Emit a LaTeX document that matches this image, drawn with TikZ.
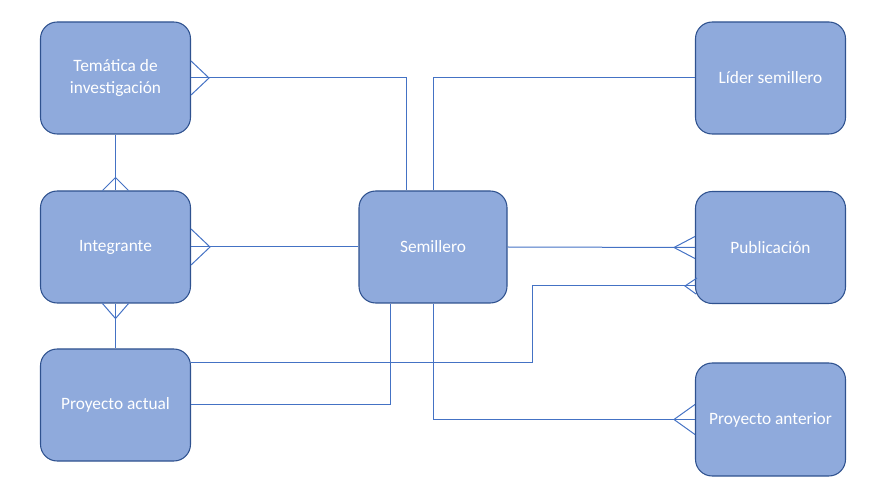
\documentclass[tikz,border=0pt]{standalone}
\usepackage{fontspec}
\setmainfont{Carlito}
\usetikzlibrary{calc}
\definecolor{boxfill}{HTML}{8FAADC}
\definecolor{boxdraw}{HTML}{2F528F}
\definecolor{linkc}{HTML}{4472C4}
\begin{document}
\begin{tikzpicture}[x=0.75pt,y=-0.75pt,
  entity/.style={draw=boxdraw,line width=0.8pt,fill=boxfill,rounded corners=12.5pt,
    minimum width=112.5pt,minimum height=84pt,text=white,align=center,
    font=\fontsize{13}{15.8}\selectfont,inner sep=0pt},
  link/.style={draw=linkc,line width=0.75pt}]
\useasboundingbox (0,0) rectangle (871,491);
\node[entity] (tem) at (115.5,78) {Temática de\\investigación};
\node[entity] (int) at (115.5,247) {Integrante};
\node[entity] (pa) at (115.5,405) {Proyecto actual};
\node[entity,minimum width=111pt] (sem) at (433,247) {Semillero};
\node[entity] (lid) at (770.5,78) {Líder semillero};
\node[entity] (pub) at (770.5,247.5) {Publicación};
\node[entity,minimum height=84.75pt] (pant) at (770.5,419.5) {Proyecto anterior};
\coordinate (bend) at (532,286);
% connectors
\draw[link] (tem.east) -| ($(sem.north)+(-27,0)$);
\draw[link] (lid.west) -| (sem.north);
\draw[link] (tem.south) -- (int.north);
\draw[link] (int.south) -- (pa.north);
\draw[link] (int.east) -- (sem.west);
\draw[link] (sem.east) -- (pub.west);
\draw[link] ($(pa.east)+(0,-42)$) -| (bend) -- ($(pub.west)+(0,38.5)$);
\draw[link] (pa.east) -| ($(sem.south)+(-43,0)$);
\draw[link] (sem.south) |- (pant.west);
% crow's feet
\draw[link] ($(tem.east)+(0,-17)$) -- ($(tem.east)+(18,0)$) -- ($(tem.east)+(0,17)$);
\draw[link] ($(int.north)+(-13,0)$) -- ($(int.north)+(0,-13)$) -- ($(int.north)+(13,0)$);
\draw[link] ($(int.south)+(-13,0)$) -- ($(int.south)+(0,15)$) -- ($(int.south)+(13,0)$);
\draw[link] ($(int.east)+(0,-18)$) -- ($(int.east)+(19,0)$) -- ($(int.east)+(0,18)$);
\draw[link] ($(pub.west)+(0,-11)$) -- ($(pub.west)+(-21,0)$) -- ($(pub.west)+(0,11)$);
\draw[link] ($(pub.west)+(2,30.5)$) -- ($(pub.west)+(-10,38.5)$) -- ($(pub.west)+(1,46.5)$);
\draw[link] ($(pant.west)+(0,-15)$) -- ($(pant.west)+(-21,0)$) -- ($(pant.west)+(0,15)$);
\end{tikzpicture}
\end{document}
